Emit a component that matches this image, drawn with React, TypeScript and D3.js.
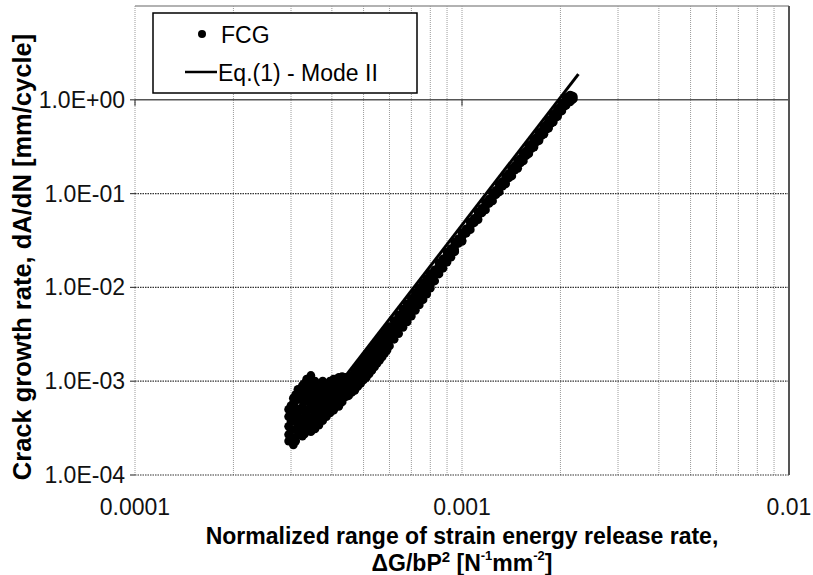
import React from "react";
import * as d3 from "d3";

const xTickValues = [0.0001, 0.001, 0.01];
const xTickLabels = ["0.0001", "0.001", "0.01"];
const yTickValues = [1e-4, 1e-3, 1e-2, 1e-1, 1e0];
const yTickLabels = ["1.0E-04", "1.0E-03", "1.0E-02", "1.0E-01", "1.0E+00"];

// Eq.(1) - Mode II line endpoints
const eqX = [3.0e-4, 2.27e-3];
const eqY = [2.0e-4, 1.88];

// FCG data points [dG/bP^2, dA/dN] — near-threshold cluster
const fcgCluster: [number, number][] = [
  [2.95e-4, 2.3e-4], [2.95e-4, 2.7e-4], [2.95e-4, 3.3e-4], [2.95e-4, 4.2e-4], [2.95e-4, 5.0e-4],
  [3.0e-4, 2.5e-4], [3.0e-4, 3.0e-4], [3.0e-4, 3.7e-4], [3.0e-4, 4.6e-4], [3.0e-4, 5.5e-4],
  [3.05e-4, 2.1e-4], [3.05e-4, 2.5e-4], [3.05e-4, 3.8e-4], [3.05e-4, 5.8e-4], [3.05e-4, 6.6e-4],
  [3.1e-4, 2.3e-4], [3.1e-4, 3.1e-4], [3.1e-4, 4.2e-4], [3.1e-4, 5.2e-4], [3.1e-4, 6.2e-4], [3.1e-4, 7.2e-4],
  [3.15e-4, 2.9e-4], [3.15e-4, 3.5e-4], [3.15e-4, 4.6e-4], [3.15e-4, 7.5e-4], [3.15e-4, 8.2e-4],
  [3.2e-4, 2.7e-4], [3.2e-4, 3.3e-4], [3.2e-4, 4.0e-4], [3.2e-4, 5.0e-4], [3.2e-4, 6.8e-4], [3.2e-4, 8.0e-4],
  [3.25e-4, 2.6e-4], [3.25e-4, 4.0e-4], [3.25e-4, 5.3e-4], [3.25e-4, 6.2e-4], [3.25e-4, 9.0e-4],
  [3.3e-4, 2.75e-4], [3.3e-4, 3.5e-4], [3.3e-4, 4.8e-4], [3.3e-4, 6.0e-4], [3.3e-4, 7.6e-4], [3.3e-4, 9.5e-4],
  [3.35e-4, 3.0e-4], [3.35e-4, 4.4e-4], [3.35e-4, 7.0e-4], [3.35e-4, 8.6e-4], [3.35e-4, 1.05e-3],
  [3.4e-4, 3.2e-4], [3.4e-4, 4.0e-4], [3.4e-4, 5.0e-4], [3.4e-4, 6.3e-4], [3.4e-4, 8.2e-4], [3.4e-4, 1.0e-3],
  [3.45e-4, 2.9e-4], [3.45e-4, 3.6e-4], [3.45e-4, 5.5e-4], [3.45e-4, 7.8e-4], [3.45e-4, 9.6e-4], [3.45e-4, 1.15e-3],
  [3.5e-4, 3.3e-4], [3.5e-4, 4.2e-4], [3.5e-4, 6.0e-4], [3.5e-4, 7.0e-4], [3.5e-4, 8.8e-4],
  [3.55e-4, 3.1e-4], [3.55e-4, 4.8e-4], [3.55e-4, 6.4e-4], [3.55e-4, 8.0e-4], [3.55e-4, 1.0e-3],
  [3.6e-4, 3.7e-4], [3.6e-4, 5.2e-4], [3.6e-4, 6.6e-4], [3.6e-4, 8.4e-4],
  [3.65e-4, 3.4e-4], [3.65e-4, 4.3e-4], [3.65e-4, 5.8e-4], [3.65e-4, 7.2e-4], [3.65e-4, 9.2e-4],
  [3.7e-4, 4.0e-4], [3.7e-4, 4.8e-4], [3.7e-4, 6.2e-4], [3.7e-4, 7.8e-4], [3.7e-4, 9.4e-4],
  [3.75e-4, 3.8e-4], [3.75e-4, 5.2e-4], [3.75e-4, 6.8e-4], [3.75e-4, 8.8e-4], [3.75e-4, 1.0e-3],
  [3.8e-4, 4.5e-4], [3.8e-4, 6.4e-4], [3.8e-4, 8.2e-4],
  [3.85e-4, 4.2e-4], [3.85e-4, 5.6e-4], [3.85e-4, 7.4e-4], [3.85e-4, 9.4e-4],
  [3.9e-4, 5.2e-4], [3.9e-4, 6.8e-4], [3.9e-4, 8.8e-4],
  [3.95e-4, 4.6e-4], [3.95e-4, 6.0e-4], [3.95e-4, 8.0e-4], [3.95e-4, 1.0e-3],
  [4.0e-4, 5.5e-4], [4.0e-4, 7.2e-4], [4.0e-4, 9.3e-4],
  [4.05e-4, 4.9e-4], [4.05e-4, 6.6e-4], [4.05e-4, 8.6e-4], [4.05e-4, 1.05e-3],
  [4.12e-4, 6.0e-4], [4.12e-4, 8.0e-4], [4.12e-4, 9.8e-4],
  [4.2e-4, 5.4e-4], [4.2e-4, 7.0e-4], [4.2e-4, 9.0e-4], [4.2e-4, 1.1e-3],
  [4.3e-4, 6.0e-4], [4.3e-4, 7.8e-4], [4.3e-4, 1.0e-3], [4.3e-4, 1.12e-3],
];

// FCG data points — transition region
const fcgTransition: [number, number][] = [
  [4.4e-4, 1.1e-3], [4.4e-4, 9.5e-4], [4.4e-4, 8.0e-4], [4.4e-4, 6.8e-4],
  [4.5e-4, 1.05e-3], [4.5e-4, 9.2e-4], [4.5e-4, 8.0e-4], [4.5e-4, 7.0e-4],
  [4.6e-4, 1.15e-3], [4.6e-4, 1.0e-3], [4.6e-4, 8.8e-4], [4.6e-4, 7.6e-4],
  [4.7e-4, 1.25e-3], [4.7e-4, 1.08e-3], [4.7e-4, 9.4e-4], [4.7e-4, 8.0e-4],
  [4.8e-4, 1.4e-3], [4.8e-4, 1.2e-3], [4.8e-4, 1.03e-3], [4.8e-4, 8.8e-4],
  [4.9e-4, 1.52e-3], [4.9e-4, 1.3e-3], [4.9e-4, 1.12e-3], [4.9e-4, 9.5e-4],
  [5.0e-4, 1.67e-3], [5.0e-4, 1.43e-3], [5.0e-4, 1.22e-3], [5.0e-4, 1.03e-3],
  [5.1e-4, 1.82e-3], [5.1e-4, 1.56e-3], [5.1e-4, 1.33e-3], [5.1e-4, 1.1e-3],
  [5.2e-4, 1.99e-3], [5.2e-4, 1.7e-3], [5.2e-4, 1.46e-3], [5.2e-4, 1.2e-3],
  [5.3e-4, 2.16e-3], [5.3e-4, 1.85e-3], [5.3e-4, 1.58e-3], [5.3e-4, 1.3e-3],
  [5.4e-4, 2.36e-3], [5.4e-4, 2.02e-3], [5.4e-4, 1.73e-3], [5.4e-4, 1.42e-3],
  [5.5e-4, 2.56e-3], [5.5e-4, 2.19e-3], [5.5e-4, 1.88e-3], [5.5e-4, 1.55e-3],
  [5.6e-4, 2.78e-3], [5.6e-4, 2.37e-3], [5.6e-4, 2.03e-3], [5.6e-4, 1.68e-3],
  [5.7e-4, 3.01e-3], [5.7e-4, 2.57e-3], [5.7e-4, 2.2e-3], [5.7e-4, 1.82e-3],
  [5.8e-4, 3.26e-3], [5.8e-4, 2.79e-3], [5.8e-4, 2.39e-3], [5.8e-4, 1.98e-3],
  [5.9e-4, 3.52e-3], [5.9e-4, 3.0e-3], [5.9e-4, 2.58e-3], [5.9e-4, 2.15e-3],
];

// FCG data points — Paris region band
const fcgBand: [number, number][] = [
  [6.0e-4, 3.82e-3], [6.0e-4, 3.26e-3], [6.0e-4, 2.8e-3], [6.0e-4, 2.38e-3],
  [6.2e-4, 4.41e-3], [6.2e-4, 3.77e-3], [6.2e-4, 3.23e-3], [6.2e-4, 2.8e-3],
  [6.4e-4, 5.08e-3], [6.4e-4, 4.34e-3], [6.4e-4, 3.72e-3], [6.4e-4, 3.22e-3],
  [6.6e-4, 5.85e-3], [6.6e-4, 4.99e-3], [6.6e-4, 4.28e-3], [6.6e-4, 3.75e-3],
  [6.8e-4, 6.69e-3], [6.8e-4, 5.71e-3], [6.8e-4, 4.9e-3], [6.8e-4, 4.3e-3],
  [7.0e-4, 7.63e-3], [7.0e-4, 6.51e-3], [7.0e-4, 5.6e-3], [7.0e-4, 4.95e-3],
  [7.2e-4, 8.69e-3], [7.2e-4, 7.42e-3], [7.2e-4, 6.4e-3], [7.2e-4, 5.7e-3],
  [7.4e-4, 9.8e-3], [7.4e-4, 8.4e-3], [7.4e-4, 7.2e-3], [7.4e-4, 6.5e-3],
  [7.6e-4, 1.11e-2], [7.6e-4, 9.5e-3], [7.6e-4, 8.2e-3], [7.6e-4, 7.4e-3],
  [7.8e-4, 1.24e-2], [7.8e-4, 1.07e-2], [7.8e-4, 9.3e-3], [7.8e-4, 8.5e-3],
  [8.0e-4, 1.4e-2], [8.0e-4, 1.21e-2], [8.0e-4, 1.06e-2], [8.0e-4, 9.8e-3],
  [8.25e-4, 1.54e-2], [8.25e-4, 1.39e-2], [8.25e-4, 1.17e-2],
  [8.5e-4, 1.84e-2], [8.5e-4, 1.68e-2], [8.5e-4, 1.52e-2], [8.5e-4, 1.39e-2],
  [8.75e-4, 2.01e-2], [8.75e-4, 1.81e-2], [8.75e-4, 1.6e-2],
  [9.0e-4, 2.38e-2], [9.0e-4, 2.18e-2], [9.0e-4, 1.97e-2], [9.0e-4, 1.86e-2],
  [9.25e-4, 2.59e-2], [9.25e-4, 2.33e-2], [9.25e-4, 2.1e-2],
  [9.5e-4, 3.03e-2], [9.5e-4, 2.78e-2], [9.5e-4, 2.52e-2], [9.5e-4, 2.4e-2],
  [9.75e-4, 3.29e-2], [9.75e-4, 2.95e-2],
  [1.0e-3, 3.84e-2], [1.0e-3, 3.51e-2], [1.0e-3, 3.18e-2], [1.0e-3, 3.09e-2],
  [1.03e-3, 4.21e-2], [1.03e-3, 3.78e-2],
  [1.06e-3, 4.97e-2], [1.06e-3, 4.55e-2], [1.06e-3, 4.12e-2],
  [1.09e-3, 5.44e-2], [1.09e-3, 4.89e-2],
  [1.12e-3, 6.38e-2], [1.12e-3, 5.84e-2], [1.12e-3, 5.29e-2],
  [1.15e-3, 6.94e-2], [1.15e-3, 6.23e-2],
  [1.18e-3, 8.08e-2], [1.18e-3, 7.39e-2], [1.18e-3, 6.7e-2],
  [1.21e-3, 8.73e-2], [1.21e-3, 7.85e-2],
  [1.24e-3, 0.101], [1.24e-3, 0.0923], [1.24e-3, 0.0836],
  [1.27e-3, 0.1085], [1.27e-3, 0.0976],
  [1.30e-3, 0.125], [1.30e-3, 0.115], [1.30e-3, 0.104],
  [1.33e-3, 0.134], [1.33e-3, 0.12],
  [1.36e-3, 0.153], [1.36e-3, 0.14], [1.36e-3, 0.127],
  [1.39e-3, 0.163], [1.39e-3, 0.147],
  [1.42e-3, 0.186], [1.42e-3, 0.17], [1.42e-3, 0.154],
  [1.45e-3, 0.198], [1.45e-3, 0.178],
  [1.48e-3, 0.225], [1.48e-3, 0.206], [1.48e-3, 0.186],
  [1.51e-3, 0.237], [1.51e-3, 0.213],
  [1.54e-3, 0.269], [1.54e-3, 0.246], [1.54e-3, 0.223],
  [1.57e-3, 0.283], [1.57e-3, 0.254],
  [1.60e-3, 0.321], [1.60e-3, 0.293], [1.60e-3, 0.266],
  [1.63e-3, 0.336], [1.63e-3, 0.302],
  [1.66e-3, 0.378], [1.66e-3, 0.346], [1.66e-3, 0.313],
  [1.69e-3, 0.395], [1.69e-3, 0.355],
  [1.72e-3, 0.444], [1.72e-3, 0.406], [1.72e-3, 0.368],
  [1.75e-3, 0.462], [1.75e-3, 0.416],
  [1.78e-3, 0.518], [1.78e-3, 0.474], [1.78e-3, 0.43],
  [1.81e-3, 0.539], [1.81e-3, 0.484],
  [1.84e-3, 0.602], [1.84e-3, 0.551], [1.84e-3, 0.499],
  [1.87e-3, 0.624], [1.87e-3, 0.561],
  [1.90e-3, 0.695], [1.90e-3, 0.636], [1.90e-3, 0.577],
  [1.93e-3, 0.72], [1.93e-3, 0.647],
  [1.96e-3, 0.801], [1.96e-3, 0.733], [1.96e-3, 0.664],
  [1.99e-3, 0.826], [1.99e-3, 0.743],
  [2.02e-3, 0.918], [2.02e-3, 0.84], [2.02e-3, 0.762],
  [2.05e-3, 0.945], [2.05e-3, 0.849],
  [2.08e-3, 1.05], [2.08e-3, 0.96], [2.08e-3, 0.87],
  [2.11e-3, 1.08], [2.11e-3, 0.97],
  [2.14e-3, 1.12], [2.14e-3, 1.03], [2.14e-3, 0.95],
  [2.17e-3, 1.1], [2.17e-3, 1.0],
  [2.19e-3, 1.08], [2.19e-3, 1.02],
];

const W = 813;
const H = 575;
const plot = { left: 135, right: 789, top: 6, bottom: 475 };
const FONT = "'Liberation Sans', Arial, Helvetica, sans-serif";

export default function App() {
  const x = d3.scaleLog().domain([1e-4, 1e-2]).range([plot.left, plot.right]);
  const y = d3.scaleLog().domain([1e-4, 1e1]).range([plot.bottom, plot.top]);

  const xGrid: number[] = [];
  for (const dec of [1e-4, 1e-3]) {
    for (let k = 1; k <= 9; k++) xGrid.push(dec * k);
  }

  const lineGen = d3
    .line<[number, number]>()
    .x((d) => x(d[0]))
    .y((d) => y(d[1]));
  const eqData: [number, number][] = eqX.map((v, i) => [v, eqY[i]]);
  const allPoints = [...fcgCluster, ...fcgTransition, ...fcgBand];

  return (
    <svg
      width={W}
      height={H}
      style={{ position: "absolute", left: 0, top: 0, background: "#fff" }}
      fontFamily={FONT}
    >
      <rect x={0} y={0} width={W} height={H} fill="#fff" />
      {xGrid.map((v, i) => (
        <line
          key={"vg" + i}
          x1={x(v)}
          x2={x(v)}
          y1={plot.top}
          y2={plot.bottom}
          stroke="#9a9a9a"
          strokeWidth={1}
          strokeDasharray="1,1"
        />
      ))}
      {yTickValues.map((v, i) =>
        v === 1 ? null : (
          <line
            key={"hg" + i}
            x1={plot.left}
            x2={plot.right}
            y1={y(v)}
            y2={y(v)}
            stroke="#333"
            strokeWidth={1.2}
            strokeDasharray="1.5,1"
          />
        )
      )}
      <line x1={plot.left} x2={plot.right} y1={y(1)} y2={y(1)} stroke="#555" strokeWidth={1.5} />
      {xTickValues.map((v, i) => (
        <line key={"xt" + i} x1={x(v)} x2={x(v)} y1={y(1)} y2={y(1) + 6} stroke="#444" strokeWidth={1.2} />
      ))}
      <line x1={plot.left} x2={plot.right} y1={plot.top} y2={plot.top} stroke="#999" strokeWidth={1.5} />
      <line x1={plot.right} x2={plot.right} y1={plot.top} y2={plot.bottom} stroke="#555" strokeWidth={2} />
      {yTickValues.map((v, i) => (
        <line key={"yt" + i} x1={plot.left - 5} x2={plot.left} y1={y(v)} y2={y(v)} stroke="#444" strokeWidth={1.2} />
      ))}

      {allPoints.map((d, i) => (
        <circle key={"p" + i} cx={x(d[0])} cy={y(d[1])} r={4.4} fill="#000" />
      ))}
      <path d={lineGen(eqData) || ""} stroke="#000" strokeWidth={3} fill="none" />

      {yTickValues.map((v, i) => (
        <text
          key={"yl" + i}
          x={plot.left - 10}
          y={y(v)}
          textAnchor="end"
          dominantBaseline="central"
          fontSize={23}
          fill="#111"
        >
          {yTickLabels[i]}
        </text>
      ))}
      {xTickValues.map((v, i) => (
        <text key={"xl" + i} x={x(v)} y={507} textAnchor="middle" dominantBaseline="central" fontSize={23} fill="#111">
          {xTickLabels[i]}
        </text>
      ))}

      <text x={462} y={536} textAnchor="middle" dominantBaseline="central" fontSize={23} fontWeight="bold">
        Normalized range of strain energy release rate,
      </text>
      <text x={462} y={563} textAnchor="middle" dominantBaseline="central" fontSize={23} fontWeight="bold">
        ΔG/bP<tspan fontSize={15} dy={-7}>2</tspan>
        <tspan dy={7}> [N</tspan>
        <tspan fontSize={13} dy={-8}>-1</tspan>
        <tspan dy={8}>mm</tspan>
        <tspan fontSize={13} dy={-8}>-2</tspan>
        <tspan dy={8}>]</tspan>
      </text>
      <text
        transform="translate(22, 257) rotate(-90)"
        textAnchor="middle"
        dominantBaseline="central"
        fontSize={25.5}
        fontWeight="bold"
      >
        Crack growth rate, dA/dN [mm/cycle]
      </text>

      <rect x={153} y={13} width={264} height={80} fill="#fff" stroke="#000" strokeWidth={1.5} />
      <circle cx={202} cy={34} r={4} fill="#000" />
      <text x={221} y={35} dominantBaseline="central" fontSize={23}>
        FCG
      </text>
      <line x1={185} x2={217} y1={72} y2={72} stroke="#000" strokeWidth={2.5} />
      <text x={218} y={73} dominantBaseline="central" fontSize={23}>
        Eq.(1) - Mode II
      </text>
    </svg>
  );
}
